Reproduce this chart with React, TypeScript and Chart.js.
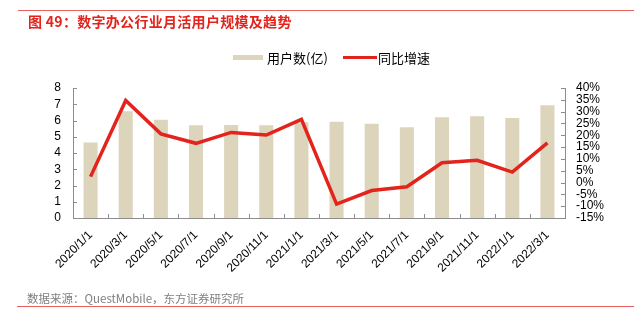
import React, { useEffect, useRef } from "react";
import { Chart, registerables } from "chart.js";

Chart.register(...registerables);

const categories = [
  "2020/1/1", "2020/3/1", "2020/5/1", "2020/7/1", "2020/9/1", "2020/11/1", "2021/1/1",
  "2021/3/1", "2021/5/1", "2021/7/1", "2021/9/1", "2021/11/1", "2022/1/1", "2022/3/1",
];
const users = [4.65, 6.57, 6.04, 5.71, 5.72, 5.71, 5.9, 5.92, 5.8, 5.59, 6.2, 6.26, 6.16, 6.94];
const yoyGrowth = [2.5, 34.7, 20.6, 16.6, 21.2, 20.1, 26.7, -9.1, -3.4, -1.8, 8.4, 9.4, 4.4, 16.8];

const leftTicks = { min: 0, max: 8, step: 1 };
const rightTicks = { min: -15, max: 40, step: 5 };

const BAR_COLOR = "#ddd4bc";
const LINE_COLOR = "#e3231c";
const AXIS_COLOR = "#8c8c8c";
const TICK_FONT = { family: "'Liberation Sans', Arial, sans-serif", size: 12 };

const innerTicks = {
  id: "innerTicks",
  afterDraw(chart: any) {
    const { ctx, chartArea, scales } = chart;
    ctx.save();
    ctx.strokeStyle = AXIS_COLOR;
    ctx.lineWidth = 1;
    ctx.beginPath();
    const n = categories.length;
    const w = (chartArea.right - chartArea.left) / n;
    for (let i = 1; i < n; i++) {
      const x = Math.round(chartArea.left + i * w) + 0.5;
      ctx.moveTo(x, chartArea.bottom);
      ctx.lineTo(x, chartArea.bottom - 4);
    }
    scales.y.ticks.forEach((t: any) => {
      const y = Math.round(scales.y.getPixelForValue(t.value)) + 0.5;
      ctx.moveTo(chartArea.left, y);
      ctx.lineTo(chartArea.left + 4, y);
    });
    scales.y1.ticks.forEach((t: any) => {
      const y = Math.round(scales.y1.getPixelForValue(t.value)) + 0.5;
      ctx.moveTo(chartArea.right, y);
      ctx.lineTo(chartArea.right - 4, y);
    });
    ctx.stroke();
    ctx.restore();
  },
};

export default function App() {
  const canvasRef = useRef<HTMLCanvasElement | null>(null);

  useEffect(() => {
    document.body.style.margin = "0";
    const canvas = canvasRef.current;
    if (!canvas) return;
    const chart = new Chart(canvas, {
      type: "bar",
      data: {
        labels: categories,
        datasets: [
          {
            type: "line",
            label: "同比增速",
            data: yoyGrowth,
            yAxisID: "y1",
            borderColor: LINE_COLOR,
            backgroundColor: LINE_COLOR,
            borderWidth: 3.5,
            pointRadius: 0,
            tension: 0,
            order: 0,
          } as any,
          {
            type: "bar",
            label: "用户数(亿)",
            data: users,
            yAxisID: "y",
            backgroundColor: BAR_COLOR,
            categoryPercentage: 0.5,
            barPercentage: 0.8,
            order: 1,
          },
        ],
      },
      options: {
        responsive: false,
        animation: false,
        devicePixelRatio: 1,
        layout: { padding: { top: 88, bottom: 30, left: 0, right: 0 } },
        plugins: { legend: { display: false }, tooltip: { enabled: false }, title: { display: false } },
        scales: {
          x: {
            grid: { display: false, drawTicks: false },
            border: { display: true, color: AXIS_COLOR },
            ticks: {
              autoSkip: false,
              minRotation: 45,
              maxRotation: 45,
              padding: 10,
              color: "#000",
              font: TICK_FONT,
            },
            afterFit(scale: any) {
              scale.height = 80;
            },
          },
          y: {
            position: "left",
            min: leftTicks.min,
            max: leftTicks.max,
            grid: { display: false, drawTicks: false },
            border: { display: true, color: AXIS_COLOR },
            ticks: { stepSize: leftTicks.step, autoSkip: false, padding: 12, color: "#000", font: TICK_FONT },
            afterFit(scale: any) {
              scale.width = 73;
            },
          },
          y1: {
            position: "right",
            min: rightTicks.min,
            max: rightTicks.max,
            grid: { display: false, drawTicks: false },
            border: { display: true, color: AXIS_COLOR },
            ticks: {
              stepSize: rightTicks.step,
              autoSkip: false,
              padding: 11,
              color: "#000",
              font: TICK_FONT,
              callback: (v: any) => `${v}%`,
            },
            afterFit(scale: any) {
              scale.width = 69;
            },
          },
        },
      },
      plugins: [innerTicks],
    });
    return () => chart.destroy();
  }, []);

  const cjk = "'Noto Sans CJK SC', 'Liberation Sans', sans-serif";

  return (
    <div style={{ position: "relative", width: 634, height: 328, background: "#fff", overflow: "hidden" }}>
      <canvas ref={canvasRef} width={634} height={328} style={{ position: "absolute", left: 0, top: 0, width: 634, height: 328 }} />
      <div style={{ position: "absolute", left: 18, top: 10, width: 616, height: 1, background: "#e8605b" }} />
      <div
        style={{
          position: "absolute",
          left: 28,
          top: 13,
          fontFamily: cjk,
          fontSize: 14,
          lineHeight: "16px",
          fontWeight: "bold",
          color: "#e3231c",
          letterSpacing: 0.3,
          whiteSpace: "nowrap",
        }}
      >
        图 49：数字办公行业月活用户规模及趋势
      </div>
      <div style={{ position: "absolute", left: 233, top: 55, width: 30, height: 5, background: BAR_COLOR }} />
      <div style={{ position: "absolute", left: 267, top: 49, fontFamily: cjk, fontSize: 13, lineHeight: "18px", color: "#000", whiteSpace: "nowrap" }}>
        用户数(亿)
      </div>
      <div style={{ position: "absolute", left: 343, top: 56, width: 34, height: 3, background: LINE_COLOR }} />
      <div style={{ position: "absolute", left: 378, top: 49, fontFamily: cjk, fontSize: 13, lineHeight: "18px", color: "#000", whiteSpace: "nowrap" }}>
        同比增速
      </div>
      <div style={{ position: "absolute", left: 27, top: 290, fontFamily: cjk, fontSize: 11.5, lineHeight: "16px", color: "#7f7f7f", whiteSpace: "nowrap" }}>
        数据来源：QuestMobile，东方证券研究所
      </div>
      <div style={{ position: "absolute", left: 17, top: 306, width: 617, height: 1, background: "#e8605b" }} />
    </div>
  );
}
